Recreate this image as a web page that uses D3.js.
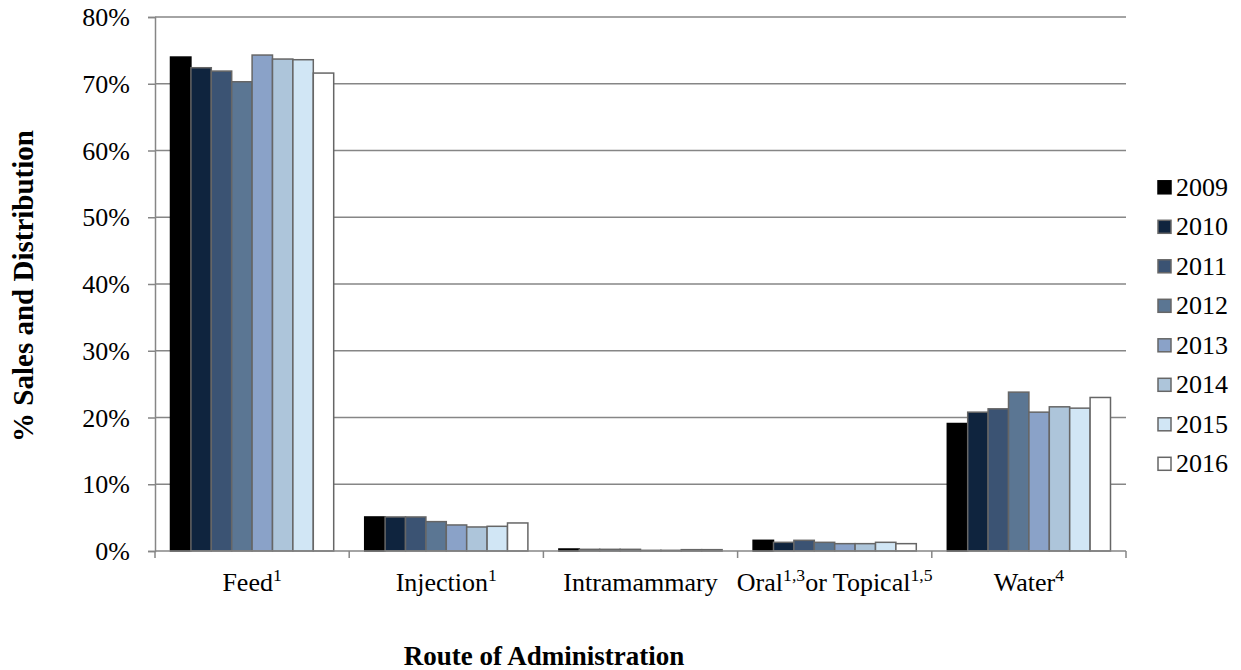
<!DOCTYPE html>
<html><head><meta charset="utf-8">
<script src="https://cdn.jsdelivr.net/npm/d3@7"></script>
<style>body{margin:0;background:#fff;}</style>
</head><body><svg id="c" width="1241" height="670"></svg>
<script>
const categories = ["Feed","Injection","Intramammary","Oral or Topical","Water"];
const catSup = [[["Feed",0],["1",1]],[["Injection",0],["1",1]],[["Intramammary",0]],[["Oral",0],["1,3",1],["or Topical",0],["1,5",1]],[["Water",0],["4",1]]];
const years = ["2009","2010","2011","2012","2013","2014","2015","2016"];
const colors = ["#000000","#0f243e","#3b5373","#5b7693","#8aa2c8","#adc5da","#d1e6f5","#ffffff"];
const v2009 = [74.0, 5.1, 0.3, 1.6, 19.1];
const v2010 = [72.4, 5.1, 0.25, 1.3, 20.8];
const v2011 = [71.9, 5.1, 0.25, 1.6, 21.3];
const v2012 = [70.3, 4.4, 0.25, 1.3, 23.8];
const v2013 = [74.3, 3.9, 0.1, 1.1, 20.8];
const v2014 = [73.7, 3.6, 0.1, 1.1, 21.6];
const v2015 = [73.6, 3.7, 0.2, 1.3, 21.4];
const v2016 = [71.6, 4.2, 0.2, 1.1, 23.0];
const series = [v2009,v2010,v2011,v2012,v2013,v2014,v2015,v2016];
const yTicks = [0,10,20,30,40,50,60,70,80];

const svg = d3.select("#c");
const FONT = '"Liberation Serif"';
const L=155, R=1126, T=17, B=551;
const fs = 26;
const x0 = d3.scaleBand().domain(categories).range([L,R]).paddingInner(0).paddingOuter(0);
const x1 = d3.scaleBand().domain(years).range([0,x0.bandwidth()]).paddingInner(0).paddingOuter(0.76);
const y = d3.scaleLinear().domain([0,80]).range([B,T]);

// gridlines
svg.append("g").selectAll("line").data(yTicks.slice(1)).join("line")
  .attr("x1",L).attr("x2",R).attr("y1",d=>y(d)).attr("y2",d=>y(d))
  .attr("stroke","#868686").attr("stroke-width",1.5);

// y axis
const ya = svg.append("g").attr("transform",`translate(${L},0)`)
  .call(d3.axisLeft(y).tickValues(yTicks).tickSize(7).tickPadding(18).tickFormat(d=>d+"%"));
ya.attr("font-family",null).style("font-family",FONT);
ya.select(".domain").attr("stroke","#868686").attr("stroke-width",1.5);
ya.selectAll(".tick line").attr("stroke","#868686").attr("stroke-width",1.5);
ya.selectAll(".tick text").style("font-family",FONT).attr("font-size",fs).attr("fill","#000").attr("dy","0.33em");

// bars
const g = svg.append("g");
categories.forEach((c,ci)=>{
  years.forEach((yr,si)=>{
    g.append("rect")
      .attr("x", x0(c)+x1(yr)).attr("width", x1.bandwidth())
      .attr("y", y(series[si][ci])).attr("height", y(0)-y(series[si][ci]))
      .attr("fill", colors[si]).attr("stroke", si===0?"#000":"#666").attr("stroke-width",1.5);
  });
});

// x axis
const xa = svg.append("g").attr("transform",`translate(0,${B})`);
xa.append("line").attr("x1",L).attr("x2",R).attr("stroke","#868686").attr("stroke-width",1.5);
const bounds = categories.map(c=>x0(c)).concat([R]);
xa.selectAll("line.t").data(bounds).join("line").attr("class","t")
  .attr("x1",d=>d).attr("x2",d=>d).attr("y1",0).attr("y2",7).attr("stroke","#868686").attr("stroke-width",1.5);
categories.forEach((c,ci)=>{
  const t = xa.append("text").attr("x",x0(c)+x0.bandwidth()/2).attr("y",40).attr("text-anchor","middle")
    .style("font-family",FONT).attr("font-size",fs).attr("fill","#000");
  catSup[ci].forEach(([s,sup],i)=>{
    const ts = t.append("tspan").text(s);
    const prevSup = i>0 && catSup[ci][i-1][1];
    if(sup){ ts.attr("font-size",fs*0.68).attr("dy",-10); }
    else if(prevSup){ ts.attr("dy",10); }
  });
});

// axis titles
svg.append("text").attr("transform","translate(33,286) rotate(-90)").attr("text-anchor","middle")
  .style("font-family",FONT).attr("font-size",29).attr("font-weight","bold").text("% Sales and Distribution");
svg.append("text").attr("x",544).attr("y",665).attr("text-anchor","middle")
  .style("font-family",FONT).attr("font-size",27).attr("font-weight","bold").text("Route of Administration");

// legend
const lg = svg.append("g");
years.forEach((yr,i)=>{
  const yy = 187.3 + i*39.5;
  lg.append("rect").attr("x",1158).attr("y",yy-6.5).attr("width",13).attr("height",13)
    .attr("fill",colors[i]).attr("stroke",i===0?"#000":"#666").attr("stroke-width",1.5);
  lg.append("text").attr("x",1176).attr("y",yy+8.5).style("font-family",FONT).attr("font-size",fs).text(yr);
});
</script></body></html>
